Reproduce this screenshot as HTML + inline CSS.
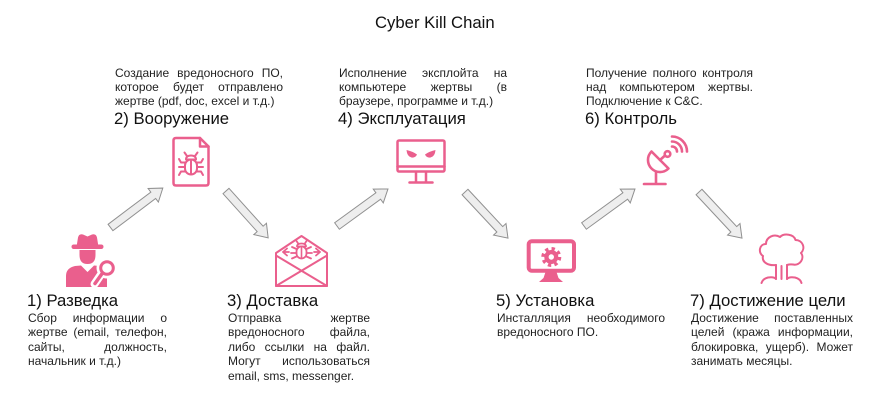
<!DOCTYPE html>
<html>
<head>
<meta charset="utf-8">
<style>
  html,body{margin:0;padding:0;background:#fff;}
  body{width:870px;height:400px;position:relative;overflow:hidden;
       font-family:"Liberation Sans","Noto Sans CJK SC",Arial,sans-serif;}
  svg{position:absolute;left:0;top:0;}
  .t{position:absolute;font-size:16.7px;line-height:20px;color:#111;white-space:nowrap;}
  .d{position:absolute;font-size:12px;line-height:14.4px;color:#222;}
  .d div{white-space:nowrap;}
  .d .j{text-align:justify;text-align-last:justify;white-space:normal;}
  .d .l{text-align:left;}
</style>
</head>
<body>

<svg width="870" height="400" viewBox="0 0 870 400" xmlns="http://www.w3.org/2000/svg">
  <!-- Arrows -->
  <g fill="#eeeeee" stroke="#909090" stroke-width="1" stroke-linejoin="miter">
    <polygon transform="translate(110.5,227.5) rotate(-37)" points="0,-4 53.5,-4 53.5,-8.5 65.5,0 53.5,8.5 53.5,4 0,4"/>
    <polygon transform="translate(226,191) rotate(48)" points="0,-4 51,-4 51,-8.5 63,0 51,8.5 51,4 0,4"/>
    <polygon transform="translate(337,226) rotate(-36)" points="0,-4 51,-4 51,-8.5 63,0 51,8.5 51,4 0,4"/>
    <polygon transform="translate(465,192) rotate(47)" points="0,-4 51,-4 51,-8.5 63,0 51,8.5 51,4 0,4"/>
    <polygon transform="translate(584,226) rotate(-36)" points="0,-4 51,-4 51,-8.5 63,0 51,8.5 51,4 0,4"/>
    <polygon transform="translate(699,192) rotate(47)" points="0,-4 51,-4 51,-8.5 63,0 51,8.5 51,4 0,4"/>
  </g>

  <!-- Icon 1: spy -->
  <g fill="#EA5F8D">
    <path d="M76.5,247 L78,237.5 Q79,233.5 83,234.5 L87.5,236.5 L92,234.5 Q96,233.5 97,237.5 L98.5,247 Z"/>
    <rect x="71.5" y="244.5" width="32" height="4.5" rx="2.2"/>
    <path d="M79.5,250 L95.5,250 L95.5,255 Q95.5,264 87.5,264 Q79.5,264 79.5,255 Z"/>
    <path d="M66,287 L66,276 Q66,268 75,266 L81,265.5 L87.5,272 L94,265.5 L100,266 Q106,268 107,274 L107,287 Z"/>
  </g>
  <line x1="102" y1="273" x2="94.5" y2="284" stroke="#fff" stroke-width="8" stroke-linecap="round"/>
  <circle cx="107" cy="268" r="10.5" fill="#fff"/>
  <circle cx="107" cy="268" r="6.3" fill="none" stroke="#EA5F8D" stroke-width="3"/>
  <line x1="102.5" y1="273" x2="95" y2="283.5" stroke="#EA5F8D" stroke-width="3.5" stroke-linecap="round"/>

  <!-- Icon 2: file with bug -->
  <g fill="none" stroke="#EA5F8D" stroke-width="2.5" stroke-linejoin="round" stroke-linecap="round">
    <path d="M176,138 L200,138 L208.5,146.5 L208.5,183 Q208.5,185.5 206,185.5 L176,185.5 Q173.5,185.5 173.5,183 L173.5,140.5 Q173.5,138 176,138 Z"/>
    <path d="M200,138 L200,146.5 L208.5,146.5"/>
    <path d="M187,156 L184.5,152.5 M195,156 L197.5,152.5" stroke-width="2"/>
    <path d="M186,159.5 Q186,155.5 191,155.5 Q196,155.5 196,159.5 Z" stroke-width="2"/>
    <rect x="185" y="159.5" width="12" height="15" rx="6" stroke-width="2"/>
    <path d="M191,161 L191,174" stroke-width="2"/>
    <path d="M185,162.5 L181,162.5 L179,159 M185,167 L179,167 M185,171.5 L181,171.5 L179,175" stroke-width="2"/>
    <path d="M197,162.5 L201,162.5 L203,159 M197,167 L203,167 M197,171.5 L201,171.5 L203,175" stroke-width="2"/>
  </g>

  <!-- Icon 3: envelope with bug -->
  <g fill="none" stroke="#EA5F8D" stroke-width="2" stroke-linejoin="round" stroke-linecap="round">
    <path d="M276,253 L301.5,236 L327,253 L327,286 L276,286 Z"/>
    <path d="M276,255.5 L327,286 M327,255.5 L276,286"/>
    <path d="M283,252 L289,252 M283,252 L287,248.5 M283,252 L287,255.5" stroke-width="1.8"/>
    <path d="M320,252 L314,252 M320,252 L316,248.5 M320,252 L316,255.5" stroke-width="1.8"/>
    <path d="M298.5,244 L296.5,241 M304.5,244 L306.5,241" stroke-width="1.8"/>
    <path d="M297,246.5 Q297,243.5 301.5,243.5 Q306,243.5 306,246.5 Z" stroke-width="1.8"/>
    <rect x="296.5" y="246.5" width="10" height="12" rx="5" stroke-width="1.8"/>
    <path d="M301.5,248 L301.5,258" stroke-width="1.6"/>
    <path d="M296.5,249 L292,247 M296.5,253 L291,253 M296.5,256.5 L292,258.5" stroke-width="1.8"/>
    <path d="M306.5,249 L311,247 M306.5,253 L312,253 M306.5,256.5 L311,258.5" stroke-width="1.8"/>
  </g>

  <!-- Icon 4: monitor with eyes -->
  <g fill="none" stroke="#EA5F8D" stroke-width="2.5" stroke-linecap="round" stroke-linejoin="round">
    <rect x="397.5" y="140.5" width="47" height="31" rx="1.5"/>
    <line x1="397.5" y1="166.5" x2="444.5" y2="166.5"/>
    <line x1="416" y1="172" x2="416" y2="182"/>
    <line x1="426" y1="172" x2="426" y2="182"/>
    <line x1="409.5" y1="182.5" x2="432.5" y2="182.5"/>
  </g>
  <g fill="#EA5F8D">
    <path d="M406.5,150 Q413,151.5 417,154.5 Q415.5,158 411.5,157.5 Q407,156.5 406.5,150 Z"/>
    <path d="M435.5,150 Q429,151.5 425,154.5 Q426.5,158 430.5,157.5 Q435,156.5 435.5,150 Z"/>
  </g>

  <!-- Icon 5: monitor with gear -->
  <rect x="528.7" y="241.3" width="45.3" height="29.4" rx="3" fill="none" stroke="#EA5F8D" stroke-width="4"/>
  <polygon points="545.5,272 556.5,272 558.5,278 563,282 539,282 543.5,278" fill="#EA5F8D"/>
  <circle cx="551.3" cy="257" r="8.3" fill="none" stroke="#EA5F8D" stroke-width="3.4" stroke-dasharray="3.3 3.22"/>
  <circle cx="551.3" cy="257" r="7" fill="#EA5F8D"/>
  <circle cx="551.3" cy="257" r="2.7" fill="#fff"/>

  <!-- Icon 6: satellite dish -->
  <g fill="none" stroke="#EA5F8D" stroke-width="2.6" stroke-linecap="round" stroke-linejoin="round">
    <path d="M651.5,151.5 A12,12 0 0 0 668.5,168.5 Z"/>
    <line x1="660" y1="160" x2="665" y2="155.5"/>
    <circle cx="667.5" cy="154" r="2.8"/>
    <line x1="656" y1="172" x2="656" y2="183.5"/>
    <line x1="644" y1="184" x2="665.5" y2="184"/>
    <path d="M672,146.5 A5,5 0 0 1 677,151.5"/>
    <path d="M672,141.5 A10,10 0 0 1 682,151.5"/>
    <path d="M672,136.5 A15,15 0 0 1 687,151.5"/>
  </g>

  <!-- Icon 7: mushroom cloud -->
  <g fill="none" stroke="#EA5F8D" stroke-width="2" stroke-linecap="round" stroke-linejoin="round">
    <path d="M776,265 C768,266 761.5,262 763,256 C758,253 759,244 766,244 C766,237 774,233.5 780,237 C784,233 794,234 795.5,240 C802.5,240 806,248 801,253 C805,258 800,266 793,264.5 Q790,264 787,265"/>
    <line x1="776" y1="265" x2="776" y2="279"/>
    <line x1="781.5" y1="266" x2="781.5" y2="279"/>
    <line x1="787" y1="265" x2="787" y2="279"/>
    <path d="M776,279 Q774,276.5 768,277.5 Q762.5,279 761.5,283"/>
    <path d="M787,279 Q789,276.5 795,277.5 Q800.5,279 801.5,283"/>
  </g>
</svg>

<!-- Title -->
<div class="t" style="left:375px;top:13px;">Cyber Kill Chain</div>

<!-- Step 2 -->
<div class="d" style="left:115px;top:65.6px;width:168px;">
  <div class="j">Создание вредоносного ПО,</div>
  <div class="j">которое будет отправлено</div>
  <div class="l">жертве (pdf, doc, excel и т.д.)</div>
</div>
<div class="t" style="left:114px;top:109px;">2) Вооружение</div>

<!-- Step 4 -->
<div class="d" style="left:339px;top:65.6px;width:168px;">
  <div class="j">Исполнение эксплойта на</div>
  <div class="j">компьютере жертвы (в</div>
  <div class="l">браузере, программе и т.д.)</div>
</div>
<div class="t" style="left:338px;top:109px;">4) Эксплуатация</div>

<!-- Step 6 -->
<div class="d" style="left:586px;top:65.6px;width:167px;">
  <div class="j">Получение полного контроля</div>
  <div class="j">над компьютером жертвы.</div>
  <div class="l">Подключение к C&amp;C.</div>
</div>
<div class="t" style="left:585px;top:109px;">6) Контроль</div>

<!-- Step 1 -->
<div class="t" style="left:27px;top:291px;">1) Разведка</div>
<div class="d" style="left:28px;top:311px;width:139px;">
  <div class="j">Сбор информации о</div>
  <div class="j">жертве (email, телефон,</div>
  <div class="j">сайты, должность,</div>
  <div class="l">начальник и т.д.)</div>
</div>

<!-- Step 3 -->
<div class="t" style="left:227px;top:291px;">3) Доставка</div>
<div class="d" style="left:228px;top:311px;width:142px;">
  <div class="j">Отправка жертве</div>
  <div class="j">вредоносного файла,</div>
  <div class="j">либо ссылки на файл.</div>
  <div class="j">Могут использоваться</div>
  <div class="l">email, sms, messenger.</div>
</div>

<!-- Step 5 -->
<div class="t" style="left:496px;top:291px;">5) Установка</div>
<div class="d" style="left:497px;top:311px;width:168px;">
  <div class="j">Инсталляция необходимого</div>
  <div class="l">вредоносного ПО.</div>
</div>

<!-- Step 7 -->
<div class="t" style="left:690px;top:291px;">7) Достижение цели</div>
<div class="d" style="left:691px;top:311px;width:162px;">
  <div class="j">Достижение поставленных</div>
  <div class="j">целей (кража информации,</div>
  <div class="j">блокировка, ущерб). Может</div>
  <div class="l">занимать месяцы.</div>
</div>

</body>
</html>
